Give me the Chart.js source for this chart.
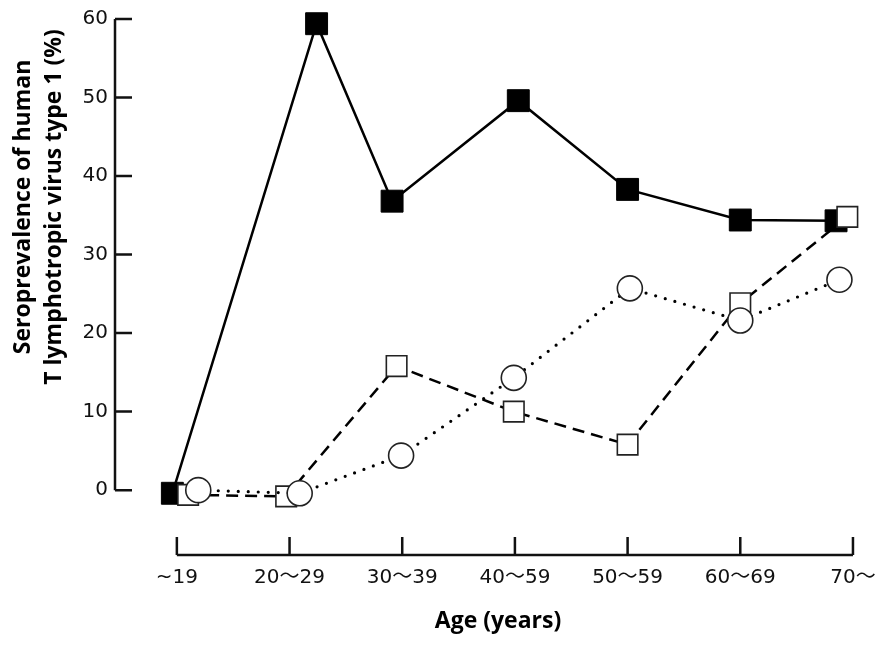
<!DOCTYPE html>
<html>
<head>
<meta charset="utf-8">
<script src="https://cdn.jsdelivr.net/npm/chart.js@4.4.1/dist/chart.umd.min.js"></script>
<style>
  html,body{margin:0;padding:0;background:#fff;}
  #wrap{width:892px;height:652px;}
</style>
</head>
<body>
<div id="wrap"><canvas id="chart"></canvas></div>
<script>
const ageGroups = ["~19","20〜29","30〜39","40〜59","50〜59","60〜69","70〜"];
const yTicks = [0,10,20,30,40,50,60];

// seroprevalence (%) per group; x = where each marker sits along the age axis (group index)
const filledX = [-0.04, 1.24, 1.91, 3.03, 4.0, 5.0, 5.85];
const filledY = [-0.4, 59.4, 36.8, 49.6, 38.3, 34.4, 34.3];
const openSqX = [0.1, 0.97, 1.95, 2.99, 4.0, 5.0, 5.95];
const openSqY = [-0.6, -0.8, 15.8, 10.0, 5.8, 23.8, 34.8];
const circleX = [0.19, 1.09, 1.99, 2.99, 4.02, 5.0, 5.88];
const circleY = [0, -0.4, 4.4, 14.3, 25.7, 21.6, 26.8];

const pts = (xs, ys) => xs.map((x,i)=>({x, y: ys[i]}));
const tickFont = { family: "'DejaVu Sans', 'Noto Sans CJK JP'", size: 20 };

const axesPlugin = {
  id: "axes",
  beforeDatasetsDraw(chart){
    const {ctx, scales:{x, y}, chartArea} = chart;
    ctx.save();
    ctx.strokeStyle = "#111";
    ctx.lineWidth = 2.5;
    // y axis, ticks pointing right
    const yl = chartArea.left;
    ctx.beginPath();
    ctx.moveTo(yl, y.getPixelForValue(60));
    ctx.lineTo(yl, y.getPixelForValue(0));
    yTicks.forEach(v=>{
      const py = y.getPixelForValue(v);
      ctx.moveTo(yl, py); ctx.lineTo(yl+17, py);
    });
    ctx.stroke();
    // x axis, ticks pointing up
    const xb = chartArea.bottom;
    ctx.beginPath();
    ctx.moveTo(x.getPixelForValue(0), xb);
    ctx.lineTo(x.getPixelForValue(ageGroups.length-1), xb);
    ageGroups.forEach((g,i)=>{
      const px = x.getPixelForValue(i);
      ctx.moveTo(px, xb); ctx.lineTo(px, xb-18);
    });
    ctx.stroke();
    ctx.restore();
  },
  afterDraw(chart){
    const ctx = chart.ctx;
    ctx.save();
    ctx.fillStyle = "#000";
    ctx.font = "bold 23px 'Open Sans'";
    ctx.textAlign = "center";
    ctx.textBaseline = "middle";
    ctx.save();
    ctx.translate(23, 207);
    ctx.rotate(-Math.PI/2);
    ctx.fillText("Seroprevalence of human", 0, 0);
    ctx.fillText("T lymphotropic virus type 1 (%)", 0, 31);
    ctx.restore();
    ctx.fillText("Age (years)", 498, 621);
    ctx.restore();
  }
};

new Chart(document.getElementById("chart"), {
  type: "line",
  data: {
    datasets: [
      {
        label: "filled",
        data: pts(filledX, filledY),
        borderColor: "#000", borderWidth: 2.5,
        pointStyle: "rect", pointRadius: 15.5, pointHoverRadius: 15.5,
        pointBackgroundColor: "#000", pointBorderColor: "#000", pointBorderWidth: 1,
        clip: false, order: 3
      },
      {
        label: "open square",
        data: pts(openSqX, openSqY),
        borderColor: "#000", borderWidth: 2.5, borderDash: [12, 7],
        pointStyle: "rect", pointRadius: 14.5, pointHoverRadius: 14.5,
        pointBackgroundColor: "#fff", pointBorderColor: "#222", pointBorderWidth: 1.6,
        clip: false, order: 2
      },
      {
        label: "circle",
        data: pts(circleX, circleY),
        borderColor: "#000", borderWidth: 3.2, borderDash: [0, 10], borderCapStyle: "round",
        pointStyle: "circle", pointRadius: 12.5, pointHoverRadius: 12.5,
        pointBackgroundColor: "#fff", pointBorderColor: "#222", pointBorderWidth: 1.6,
        clip: false, order: 1
      }
    ]
  },
  options: {
    responsive: true,
    maintainAspectRatio: false,
    animation: false,
    events: [],
    layout: { padding: { left: 0, top: 18, right: 14.4, bottom: 0 } },
    plugins: { legend: { display: false }, tooltip: { enabled: false } },
    scales: {
      x: {
        type: "linear",
        min: -0.549, max: 6.2,
        grid: { display: false, drawTicks: false }, border: { display: false },
        afterBuildTicks: s => { s.ticks = ageGroups.map((g,i)=>({value: i})); },
        afterFit: s => { s.height = 97; },
        ticks: {
          autoSkip: false, maxRotation: 0, padding: 11,
          color: "#111", font: tickFont,
          callback: v => ageGroups[v]
        }
      },
      y: {
        min: -8.26, max: 60,
        grid: { display: false, drawTicks: false }, border: { display: false },
        afterBuildTicks: s => { s.ticks = yTicks.map(v=>({value: v})); },
        afterFit: s => { s.width = 115; },
        ticks: {
          padding: 7,
          color: "#111", font: tickFont
        }
      }
    }
  },
  plugins: [axesPlugin]
});
</script>
</body>
</html>
